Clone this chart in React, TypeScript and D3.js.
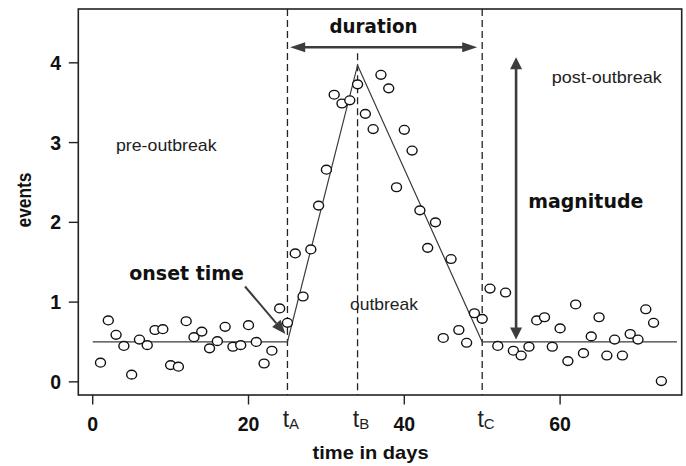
import React from "react";
import * as d3 from "d3";

// observed daily event counts, days 1..73
const eventValues: number[] = [
  0.24, 0.77, 0.59, 0.45, 0.09, 0.53, 0.46, 0.65, 0.66, 0.21, 0.19, 0.76, 0.56, 0.63, 0.42, 0.51, 0.69, 0.44, 0.46, 0.71,
  0.5, 0.23, 0.39, 0.92, 0.74,
  1.61, 1.07, 1.66, 2.21, 2.66, 3.6, 3.49, 3.53, 3.73, 3.36, 3.17, 3.85, 3.68, 2.44, 3.16, 2.9, 2.15, 1.68, 2.0, 0.55,
  1.54, 0.65, 0.49, 0.86, 0.79, 1.17,
  0.45, 1.12, 0.39, 0.33, 0.44, 0.77, 0.81, 0.44, 0.67, 0.26, 0.97, 0.36, 0.57, 0.81, 0.33, 0.53, 0.33, 0.6, 0.53,
  0.91, 0.74, 0.01,
];
const xTicks: number[] = [0, 20, 40, 60];
const yTicks: number[] = [0, 1, 2, 3, 4];
// fitted outbreak model: [day, level]
const preLine: [number, number][] = [[0, 0.5], [25, 0.5]];
const outbreakLine: [number, number][] = [[25, 0.5], [34, 3.97], [50, 0.5]];
const postLine: [number, number][] = [[50, 0.5], [75, 0.5]];
const markers: { t: number; sub: string }[] = [
  { t: 25, sub: "A" },
  { t: 34, sub: "B" },
  { t: 50, sub: "C" },
];
const baseline = 0.5;
const peak = 4.07;

const W = 686;
const H = 466;

export default function App() {
  const x = d3.scaleLinear().domain([-1.85, 75.61]).range([78.3, 681.7]);
  const y = d3.scaleLinear().domain([-0.165, 4.675]).range([395, 9]);
  const [x0, x1] = x.range();
  const [yb, yt] = y.range();
  const line = d3
    .line<[number, number]>()
    .x((d) => x(d[0]))
    .y((d) => y(d[1]));

  const lineColor = "#3a3a3a";
  const arrowColor = "#3c3c3c";
  const sans = "'Liberation Sans', Arial, sans-serif";
  const heavy = "'DejaVu Sans', sans-serif";

  const headPath = (tipX: number, tipY: number, dir: number, len: number, half: number, vertical: boolean) => {
    if (vertical) {
      return `M${tipX},${tipY} L${tipX - half},${tipY + dir * len} L${tipX + half},${tipY + dir * len} Z`;
    }
    return `M${tipX},${tipY} L${tipX + dir * len},${tipY - half} L${tipX + dir * len},${tipY + half} Z`;
  };

  // duration arrow
  const durY = 47.3;
  const durL = x(25) + 2.7;
  const durR = x(50) - 5;
  // magnitude arrow
  const magX = x(54.35);
  const magTop = y(peak);
  const magBot = y(baseline) - 2.5;
  // onset arrow
  const onS = [245, 286.5];
  const onE = [x(25) - 2, y(baseline) - 8];
  const ang = Math.atan2(onE[1] - onS[1], onE[0] - onS[0]);
  const hl = 14;
  const hw = 5.5;
  const bx = onE[0] - hl * Math.cos(ang);
  const by = onE[1] - hl * Math.sin(ang);
  const onHead = `M${onE[0]},${onE[1]} L${bx + hw * Math.sin(ang)},${by - hw * Math.cos(ang)} L${bx - hw * Math.sin(ang)},${by + hw * Math.cos(ang)} Z`;

  return (
    <svg
      width={W}
      height={H}
      style={{ position: "absolute", left: 0, top: 0, background: "#fff" }}
    >
      {/* dashed marker lines */}
      {markers.map((m) => (
        <line
          key={m.sub}
          x1={x(m.t)}
          x2={x(m.t)}
          y1={m.sub === "B" ? y(peak + 0.05) : yt}
          y2={yb}
          stroke="#222"
          strokeWidth={1.3}
          strokeDasharray="7,4"
        />
      ))}

      {/* model lines */}
      <path d={line(preLine) || ""} fill="none" stroke={lineColor} strokeWidth={1.2} />
      <path d={line(outbreakLine) || ""} fill="none" stroke={lineColor} strokeWidth={1.2} />
      <path d={line(postLine) || ""} fill="none" stroke={lineColor} strokeWidth={1.2} />

      {/* points */}
      {eventValues.map((v, i) => (
        <ellipse
          key={i}
          cx={x(i + 1)}
          cy={y(v)}
          rx={5}
          ry={4.4}
          fill="#fff"
          stroke="#111"
          strokeWidth={1.4}
        />
      ))}

      {/* box */}
      <rect x={x0} y={yt} width={x1 - x0} height={yb - yt} fill="none" stroke="#222" strokeWidth={1.6} />

      {/* x axis */}
      {xTicks.map((t) => (
        <g key={t}>
          <line x1={x(t)} x2={x(t)} y1={yb} y2={yb + 9.5} stroke="#222" strokeWidth={1.4} />
          <text x={x(t)} y={431} textAnchor="middle" fontFamily={sans} fontWeight="bold" fontSize={19.5} fill="#111">
            {t}
          </text>
        </g>
      ))}
      {markers.map((m) => (
        <text key={m.sub} x={x(m.t) - 4.8} y={426.7} fontFamily={sans} fontSize={23} fill="#222">
          t
          <tspan fontSize={15} dy={1.8}>
            {m.sub}
          </tspan>
        </text>
      ))}
      <text x={370.6} y={459} textAnchor="middle" fontFamily={sans} fontWeight="bold" fontSize={19} fill="#111" textLength={116} lengthAdjust="spacingAndGlyphs">
        time in days
      </text>

      {/* y axis */}
      {yTicks.map((t) => (
        <g key={t}>
          <line x1={x0 - 9.5} x2={x0} y1={y(t)} y2={y(t)} stroke="#222" strokeWidth={1.4} />
          <text x={61} y={y(t)} dy="0.36em" textAnchor="end" fontFamily={sans} fontWeight="bold" fontSize={19.5} fill="#111">
            {t}
          </text>
        </g>
      ))}
      <text
        transform={`translate(31,200) rotate(-90)`}
        textAnchor="middle"
        fontFamily={sans}
        fontWeight="bold"
        fontSize={19.5}
        fill="#111"
        textLength={55}
        lengthAdjust="spacingAndGlyphs"
      >
        events
      </text>

      {/* region labels */}
      <text x={116} y={150.7} fontFamily={sans} fontSize={17} fill="#222" textLength={100.5} lengthAdjust="spacingAndGlyphs">
        pre-outbreak
      </text>
      <text x={350} y={310} fontFamily={sans} fontSize={17} fill="#222" textLength={68} lengthAdjust="spacingAndGlyphs">
        outbreak
      </text>
      <text x={551.7} y={83.3} fontFamily={sans} fontSize={17} fill="#222" textLength={110} lengthAdjust="spacingAndGlyphs">
        post-outbreak
      </text>

      {/* duration */}
      <line x1={durL + 12} x2={durR - 12} y1={durY} y2={durY} stroke={arrowColor} strokeWidth={2.6} />
      <path d={headPath(durL, durY, 1, 15, 5, false)} fill={arrowColor} />
      <path d={headPath(durR, durY, -1, 15, 5, false)} fill={arrowColor} />
      <text x={329.5} y={33} fontFamily={heavy} fontWeight="bold" fontSize={19} fill="#111" textLength={88} lengthAdjust="spacingAndGlyphs">
        duration
      </text>

      {/* magnitude */}
      <line x1={magX} x2={magX} y1={magTop + 10} y2={magBot - 10} stroke={arrowColor} strokeWidth={2.6} />
      <path d={headPath(magX, magTop, 1, 12, 6, true)} fill={arrowColor} />
      <path d={headPath(magX, magBot, -1, 12, 6, true)} fill={arrowColor} />
      <text x={528.3} y={208} fontFamily={heavy} fontWeight="bold" fontSize={19} fill="#111" textLength={115} lengthAdjust="spacingAndGlyphs">
        magnitude
      </text>

      {/* onset time */}
      <line x1={onS[0]} y1={onS[1]} x2={bx} y2={by} stroke={arrowColor} strokeWidth={2} />
      <path d={onHead} fill={arrowColor} />
      <text x={129.3} y={280} fontFamily={heavy} fontWeight="bold" fontSize={19} fill="#111" textLength={114.7} lengthAdjust="spacingAndGlyphs">
        onset time
      </text>
    </svg>
  );
}
